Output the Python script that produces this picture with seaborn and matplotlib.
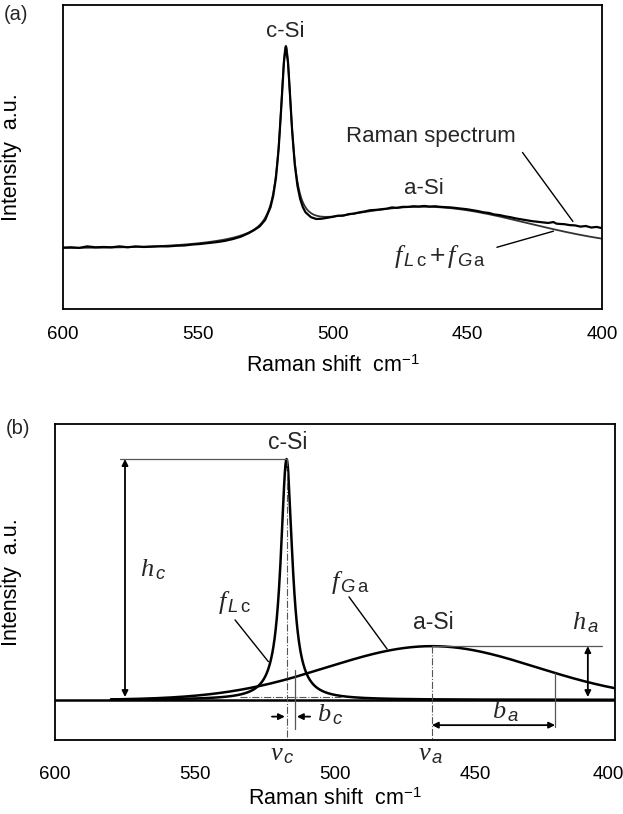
import numpy as np
import pandas as pd
import matplotlib
matplotlib.use("Agg")
import matplotlib.pyplot as plt
import matplotlib.transforms as mtrans
import seaborn as sns

spec_shift = [600, 597, 594, 591, 588, 585, 582, 579, 576, 573, 570, 567, 564, 561,
              558, 555, 552, 549, 546, 543, 540, 537, 534, 531, 529, 527, 525, 523,
              522, 521, 520, 519, 518, 517.3, 516.5, 516, 515, 514, 513, 512, 511,
              510, 508, 506, 504, 502, 500, 498, 496, 494, 492, 490, 488, 486, 484,
              482, 480, 478, 476, 474, 472, 470, 468, 466, 464, 462, 460, 458, 456,
              454, 452, 450, 448, 446, 444, 442, 440, 438, 436, 434, 432, 430, 428,
              426, 424, 422, 420, 418, 417, 416, 414, 412, 410, 408, 406, 404, 402, 400]
spec_int = [0.202, 0.203, 0.201, 0.206, 0.203, 0.204, 0.203, 0.206, 0.203, 0.206,
            0.204, 0.205, 0.206, 0.206, 0.208, 0.209, 0.212, 0.214, 0.217, 0.220,
            0.224, 0.230, 0.238, 0.250, 0.260, 0.272, 0.293, 0.335, 0.372, 0.430,
            0.525, 0.665, 0.815, 0.863, 0.810, 0.740, 0.590, 0.475, 0.405, 0.362,
            0.335, 0.318, 0.302, 0.296, 0.297, 0.300, 0.303, 0.307, 0.307, 0.312,
            0.314, 0.318, 0.321, 0.325, 0.326, 0.328, 0.330, 0.334, 0.333, 0.336,
            0.336, 0.338, 0.337, 0.339, 0.337, 0.338, 0.336, 0.335, 0.334, 0.332,
            0.330, 0.328, 0.325, 0.322, 0.318, 0.316, 0.311, 0.309, 0.305, 0.302,
            0.298, 0.295, 0.292, 0.289, 0.287, 0.285, 0.283, 0.286, 0.281, 0.280,
            0.279, 0.276, 0.275, 0.271, 0.273, 0.268, 0.270, 0.266]

# fit parameters for panel (a): baseline, Lorentzian (c-Si), Gaussian (a-Si)
fit_a_base = 0.200
fit_a_lc = dict(v=517.3, h=0.610, b=2.5)
fit_a_ga = dict(v=466.0, h=0.135, s=38.5)

# ---- panel (b): separated components ----
base_b = 0.127
comp_lc = dict(v=517.3, h=0.762, b=2.5)      # v_c, h_c, b_c
comp_ga = dict(v=465.4, h=0.170, s=37.4)     # v_a, h_a
b_c_edge = 514.3
b_a_edge = 421.4
ticks = [600, 550, 500, 450, 400]


def f_L(x, p):
    return p["h"] * p["b"] ** 2 / (p["b"] ** 2 + (x - p["v"]) ** 2)


def f_G(x, p):
    return p["h"] * np.exp(-(x - p["v"]) ** 2 / (2 * p["s"] ** 2))


sns.set_theme(style="white")
plt.rcParams["font.family"] = ["Liberation Sans", "DejaVu Sans"]
plt.rcParams["mathtext.fontset"] = "custom"
plt.rcParams["mathtext.rm"] = "Liberation Sans"
plt.rcParams["mathtext.it"] = "Liberation Serif:italic"
plt.rcParams["mathtext.sf"] = "Liberation Sans:italic"

fig = plt.figure(figsize=(6.23, 8.14), dpi=100)
ax_a = fig.add_axes([63 / 623, 1 - 309 / 814, 539 / 623, 304 / 814])
ax_b = fig.add_axes([55 / 623, 1 - 740 / 814, 560 / 623, 316 / 814])

# ---- panel (a) ----
xa = np.linspace(600, 400, 2001)
fit_a = pd.DataFrame({"shift": xa,
                      "y": fit_a_base + f_L(xa, fit_a_lc) + f_G(xa, fit_a_ga)})
spec = pd.DataFrame({"shift": spec_shift, "y": spec_int})
sns.lineplot(data=fit_a, x="shift", y="y", ax=ax_a, color="#333333", lw=1.3, legend=False)
sns.lineplot(data=spec, x="shift", y="y", ax=ax_a, color="black", lw=1.6, legend=False)

ax_a.text(517.5, 0.912, "c-Si", fontsize=16, ha="center", va="center")
ax_a.text(466, 0.398, "a-Si", fontsize=16, ha="center", va="center")
ax_a.text(463.6, 0.567, "Raman spectrum", fontsize=16, ha="center", va="center")
ax_a.plot([429.5, 410.8], [0.515, 0.288], color="black", lw=1)
ax_a.text(460, 0.172,
          r"$\mathit{f}_{\,\mathsf{L}\,\mathrm{c}}\,\mathrm{+}\,\mathit{f}_{\,\mathsf{G}\,\mathrm{a}}$",
          fontsize=19, ha="center", va="center")
ax_a.plot([439.0, 418.0], [0.203, 0.256], color="black", lw=1)

# ---- panel (b) ----
xb = np.linspace(580, 400, 1801)
lc = pd.DataFrame({"shift": xb, "y": base_b + f_L(xb, comp_lc)})
ga = pd.DataFrame({"shift": xb, "y": base_b + f_G(xb, comp_ga)})
ax_b.axhline(base_b, color="black", lw=1.8)
sns.lineplot(data=lc, x="shift", y="y", ax=ax_b, color="black", lw=1.8, legend=False)
sns.lineplot(data=ga, x="shift", y="y", ax=ax_b, color="black", lw=1.8, legend=False)

peak_c = base_b + comp_lc["h"]
peak_a = base_b + comp_ga["h"]
grey = "#555555"

# guide lines
ax_b.plot([576.8, comp_lc["v"]], [peak_c, peak_c], color=grey, lw=0.9)
ax_b.plot([comp_lc["v"], comp_lc["v"]], [peak_c, 0], color=grey, lw=0.8, ls="-.")
ax_b.plot([comp_ga["v"], comp_ga["v"]], [peak_a, 0], color=grey, lw=0.8, ls="-.")
ax_b.plot([534, 498], [0.135, 0.135], color=grey, lw=0.8, ls="-.")
ax_b.plot([b_c_edge, b_c_edge], [0.22, 0.035], color=grey, lw=0.9)
ax_b.plot([comp_ga["v"], 404.6], [peak_a, peak_a], color=grey, lw=0.9)
half_a = base_b + f_G(b_a_edge, comp_ga)
ax_b.plot([b_a_edge, b_a_edge], [half_a, 0.040], color=grey, lw=0.9)

arrow2 = dict(arrowstyle="<|-|>", color="black", lw=1.3, mutation_scale=9, shrinkA=0, shrinkB=0)
arrow1 = dict(arrowstyle="-|>", color="black", lw=1.3, mutation_scale=9, shrinkA=0, shrinkB=0)
ax_b.annotate("", xy=(575, 0.136), xytext=(575, peak_c), arrowprops=arrow2)
ax_b.annotate("", xy=(409.7, 0.136), xytext=(409.7, peak_a), arrowprops=arrow2)
ax_b.annotate("", xy=(b_a_edge, 0.047), xytext=(comp_ga["v"], 0.047), arrowprops=arrow2)
ax_b.annotate("", xy=(517.9, 0.074), xytext=(522.5, 0.074), arrowprops=arrow1)
ax_b.annotate("", xy=(513.6, 0.074), xytext=(508.9, 0.074), arrowprops=arrow1)

# pointers
ax_b.plot([535.7, 523.8], [0.380, 0.248], color="black", lw=1)
ax_b.plot([495.0, 481.4], [0.453, 0.288], color="black", lw=1)

# labels
ax_b.text(516.8, 0.940, "c-Si", fontsize=16.5, ha="center", va="center")
ax_b.text(465.0, 0.373, "a-Si", fontsize=16.5, ha="center", va="center")
ax_b.text(565.0, 0.538, r"$\mathit{h}_{\,\mathsf{c}}$", fontsize=19, ha="center", va="center")
ax_b.text(410.5, 0.370, r"$\mathit{h}_{\,\mathsf{a}}$", fontsize=19, ha="center", va="center")
ax_b.text(536.0, 0.434, r"$\mathit{f}_{\,\mathsf{L}\,\mathrm{c}}$", fontsize=19, ha="center", va="center")
ax_b.text(494.6, 0.500, r"$\mathit{f}_{\,\mathsf{G}\,\mathrm{a}}$", fontsize=19, ha="center", va="center")
ax_b.text(506.5, 0.080, r"$\mathit{b}_{\,\mathsf{c}}$", fontsize=19, ha="left", va="center")
ax_b.text(439.0, 0.088, r"$\mathit{b}_{\,\mathsf{a}}$", fontsize=19, ha="center", va="center")
ax_b.text(518.6, -0.045, r"$\mathit{v}_{\,\mathsf{c}}$", fontsize=19, ha="center", va="center", clip_on=False)
ax_b.text(465.7, -0.045, r"$\mathit{v}_{\,\mathsf{a}}$", fontsize=19, ha="center", va="center", clip_on=False)

for ax in (ax_a, ax_b):
    ax.set_xlim(600, 400)
    ax.set_ylim(0, 1)
    ax.set_yticks([])
    ax.set_xticks(ticks)
    ax.set_xticklabels([str(t) for t in ticks])
    for sp in ax.spines.values():
        sp.set_color("black")
        sp.set_linewidth(1.3)
    ax.set_ylabel("Intensity  a.u.", fontsize=15.5, color="black")
    ax.set_xlabel("Raman shift  cm$^{-1}$", fontsize=15.5, color="black")

ax_a.tick_params(axis="x", direction="in", length=5, width=1, labelsize=13.5, pad=12, colors="black")
ax_b.tick_params(axis="x", direction="in", length=5, width=1, labelsize=13.5, pad=19, colors="black")
ax_a.xaxis.labelpad = 9
ax_b.xaxis.labelpad = 4
ax_a.yaxis.set_label_coords(-0.076, 0.5)
ax_b.yaxis.set_label_coords(-0.059, 0.5)

# keep the last tick label of (b) inside the canvas, as in the reference
lab = ax_b.get_xticklabels()[-1]
lab.set_transform(lab.get_transform() + mtrans.ScaledTranslation(-7 / 100, 0, fig.dpi_scale_trans))

fig.text(16 / 623, 1 - 15 / 814, "(a)", fontsize=14.5, ha="center", va="center")
fig.text(18 / 623, 1 - 428 / 814, "(b)", fontsize=14.5, ha="center", va="center")

fig.savefig("out.png", dpi=100)
